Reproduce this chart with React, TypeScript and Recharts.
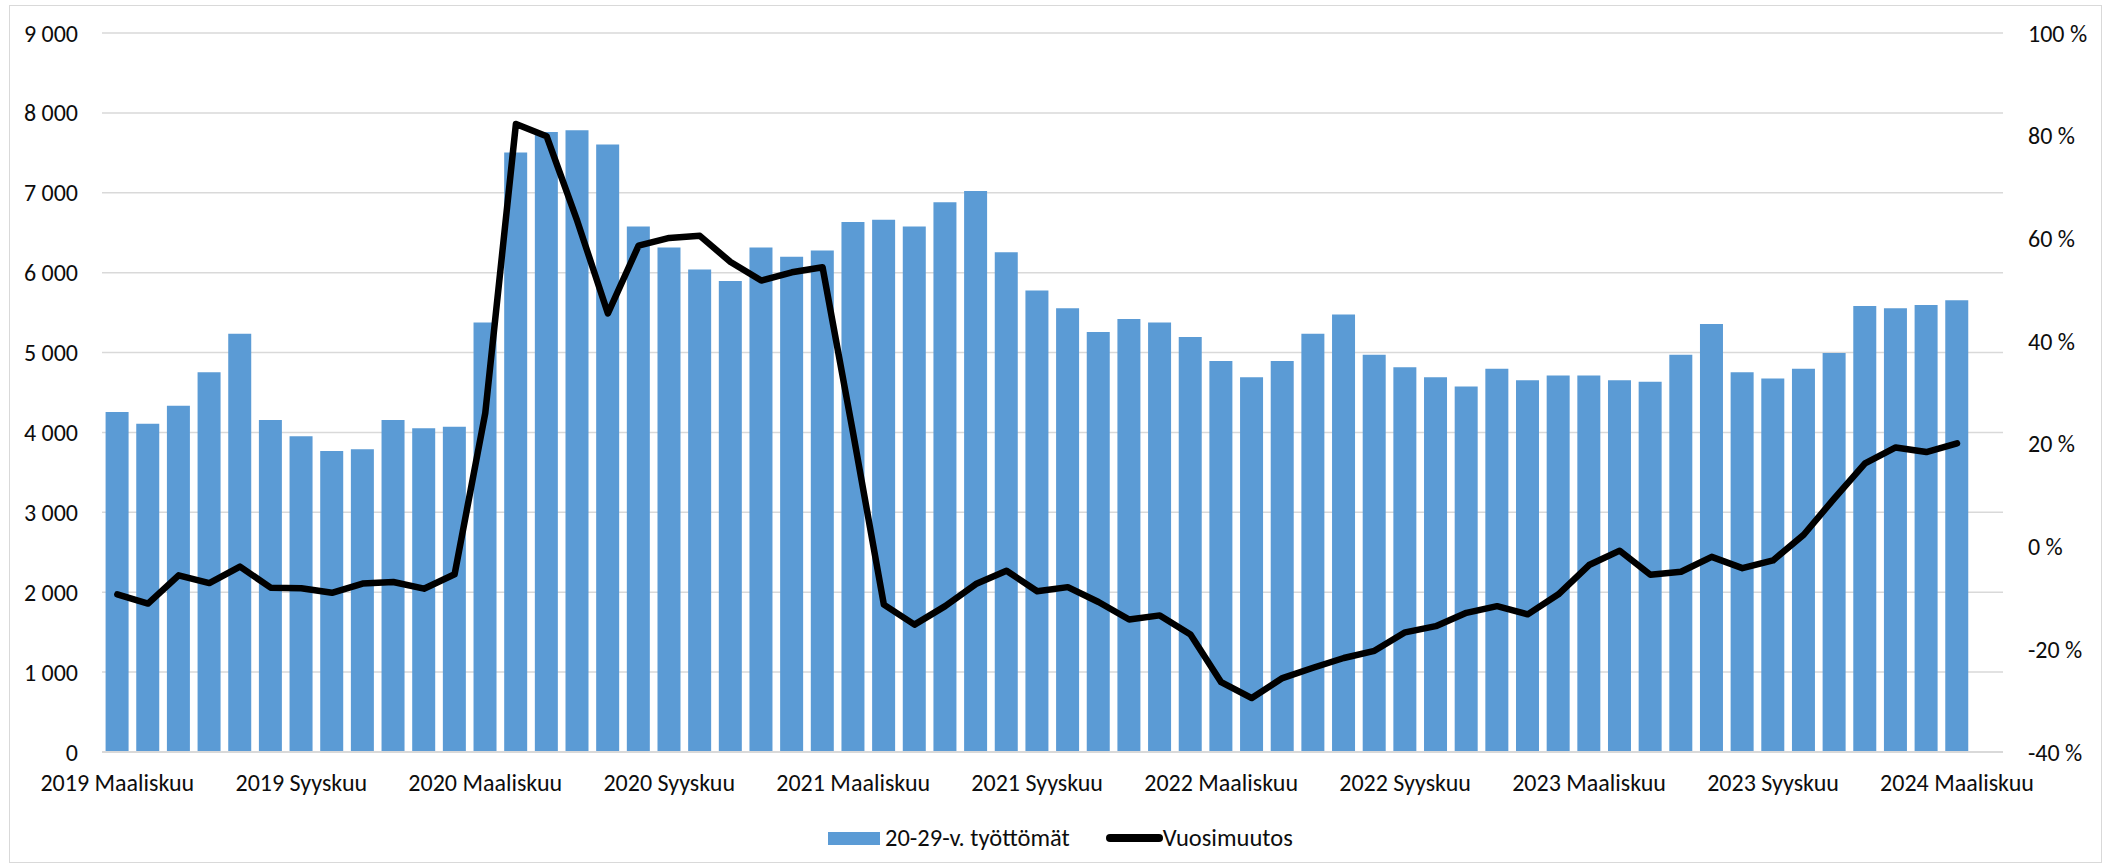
import {
  Bar,
  CartesianGrid,
  ComposedChart,
  Legend,
  Line,
  XAxis,
  YAxis,
} from 'recharts';

const FONT = "Calibri, Carlito, 'Liberation Sans', Arial, sans-serif";
const BLUE = '#5B9BD5';
const GRID = '#D9D9D9';

const monthNames = [
  'Tammikuu', 'Helmikuu', 'Maaliskuu', 'Huhtikuu', 'Toukokuu', 'Kesäkuu',
  'Heinäkuu', 'Elokuu', 'Syyskuu', 'Lokakuu', 'Marraskuu', 'Joulukuu',
];

// 20-29-v. työttömät, 2019 Maaliskuu .. 2024 Maaliskuu (+ tyhjä Huhtikuu)
const unemployed = [
  4255, 4110, 4334, 4754, 5235, 4155, 3953, 3768, 3791, 4155, 4054, 4071,
  5375, 7503, 7760, 7783, 7604, 6579, 6316, 6041, 5896, 6316, 6198, 6277,
  6635, 6663, 6579, 6881, 7021, 6254, 5778, 5554, 5258, 5420, 5375, 5196,
  4894, 4692, 4894, 5235, 5476, 4972, 4815, 4692, 4574, 4798, 4653, 4714,
  4714, 4653, 4636, 4972, 5358, 4754, 4675, 4798, 4994, 5582, 5554, 5594, 5655,
  null,
];

// Vuosimuutos, %
const yearlyChange = [
  -9.3, -11.1, -5.6, -7.1, -3.9, -8.0, -8.1, -9.0, -7.2, -6.9, -8.2, -5.4,
  26.0, 82.3, 79.9, 63.4, 45.4, 58.6, 60.1, 60.5, 55.4, 51.8, 53.4, 54.4,
  22.0, -11.3, -15.2, -11.6, -7.3, -4.7, -8.7, -7.9, -10.8, -14.2, -13.4, -17.1,
  -26.4, -29.5, -25.6, -23.6, -21.7, -20.3, -16.7, -15.5, -12.9, -11.6, -13.2, -9.3,
  -3.6, -0.8, -5.5, -4.9, -2.0, -4.2, -2.7, 2.3, 9.4, 16.2, 19.3, 18.4, 20.1,
  null,
];

const leftTicks = [0, 1000, 2000, 3000, 4000, 5000, 6000, 7000, 8000, 9000];
const rightTicks = [-40, -20, 0, 20, 40, 60, 80, 100];

const categories = unemployed.map((_, i) => {
  const m = i + 2;
  return `${2019 + Math.floor(m / 12)} ${monthNames[m % 12]}`;
});

const data = categories.map((name, i) => ({
  name,
  tyottomat: unemployed[i],
  muutos: yearlyChange[i],
}));

const fmtThousands = (v: number) =>
  v >= 1000 ? `${Math.floor(v / 1000)} ${String(v % 1000).padStart(3, '0')}` : String(v);

const tickStyle = { fontSize: 24, fill: '#0d0d0d', fontFamily: FONT };

function ChartLegend() {
  return (
    <div
      style={{
        display: 'flex',
        alignItems: 'center',
        paddingLeft: 828,
        fontFamily: FONT,
        fontSize: 24.5,
        color: '#0d0d0d',
        height: 36,
      }}
    >
      <span style={{ width: 52, height: 13, background: BLUE, display: 'inline-block' }} />
      <span style={{ marginLeft: 5 }}>20-29-v. työttömät</span>
      <span
        style={{
          marginLeft: 36,
          width: 57,
          height: 8,
          borderRadius: 4,
          background: '#000',
          display: 'inline-block',
        }}
      />
      <span>Vuosimuutos</span>
    </div>
  );
}

export default function App() {
  return (
    <div
      style={{
        position: 'absolute',
        left: 0,
        top: 0,
        width: 2105,
        height: 868,
        background: '#fff',
      }}
    >
      <div
        style={{
          position: 'absolute',
          left: 9,
          top: 5,
          width: 2093,
          height: 858,
          border: `1.5px solid ${GRID}`,
          boxSizing: 'border-box',
        }}
      />
      <ComposedChart
        width={2105}
        height={868}
        data={data}
        margin={{ top: 33, right: 12, bottom: 76, left: 22 }}
        barCategoryGap="11.7%"
        style={{ position: 'absolute', left: 0, top: 0 }}
      >
        <CartesianGrid vertical={false} stroke={GRID} strokeWidth={1.5} yAxisId="left" />
        <XAxis
          dataKey="name"
          interval={5}
          tickLine={false}
          tickSize={0}
          tickMargin={22}
          axisLine={{ stroke: GRID, strokeWidth: 2 }}
          tick={tickStyle}
          height={40}
        />
        <YAxis
          yAxisId="left"
          domain={[0, 9000]}
          ticks={leftTicks}
          tickFormatter={fmtThousands}
          tickLine={false}
          axisLine={false}
          tickSize={0}
          tickMargin={24}
          width={80}
          tick={tickStyle}
          interval={0}
        />
        <YAxis
          yAxisId="right"
          orientation="right"
          domain={[-40, 100]}
          ticks={rightTicks}
          tickFormatter={(v: number) => `${v} %`}
          tickLine={false}
          axisLine={false}
          tickSize={0}
          tickMargin={25}
          width={90}
          tick={tickStyle}
          interval={0}
        />
        <Bar
          yAxisId="left"
          dataKey="tyottomat"
          name="20-29-v. työttömät"
          fill={BLUE}
          isAnimationActive={false}
        />
        <Line
          yAxisId="right"
          dataKey="muutos"
          name="Vuosimuutos"
          type="linear"
          stroke="#000"
          strokeWidth={6.5}
          strokeLinejoin="round"
          strokeLinecap="round"
          dot={false}
          activeDot={false}
          isAnimationActive={false}
        />
        <Legend
          layout="horizontal"
          align="center"
          verticalAlign="middle"
          content={() => <ChartLegend />}
          wrapperStyle={{ top: 820, left: 0, width: 2105, height: 36 }}
        />
      </ComposedChart>
    </div>
  );
}
